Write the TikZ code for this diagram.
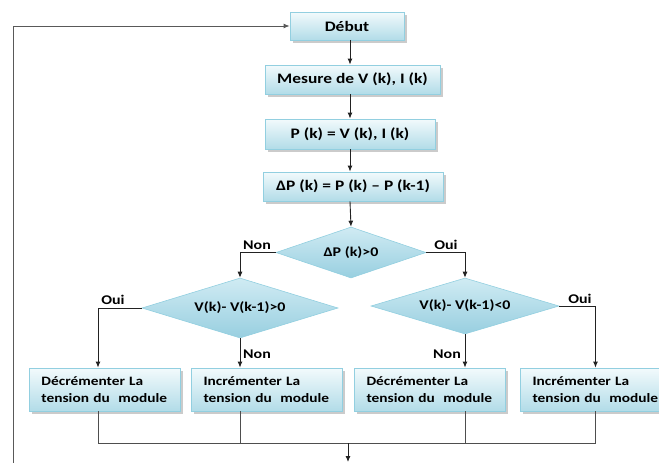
\documentclass[tikz,border=0pt]{standalone}
\usepackage{fontspec}
\setmainfont{Carlito}[FakeStretch=1.2]
\usetikzlibrary{shapes.geometric,arrows.meta,shadows}

\definecolor{boxtop}{HTML}{F2FAFC}
\definecolor{boxbot}{HTML}{B2DCE8}
\definecolor{boxedge}{HTML}{92CFE0}
\definecolor{dmtop}{HTML}{D0EBF3}
\definecolor{dmbot}{HTML}{98CFE0}
\definecolor{wire}{HTML}{222222}

\tikzset{
  stepbox/.style={draw=boxedge, line width=0.8pt, top color=boxtop, bottom color=boxbot,
    inner sep=0pt, font=\bfseries\fontsize{14.5}{17}\selectfont,
    drop shadow={shadow xshift=2.5pt, shadow yshift=-2.5pt, fill=black!45, opacity=0.45}},
  actbox/.style={stepbox, minimum width=151pt, minimum height=43pt,
    text width=126pt, align=left, font=\bfseries\fontsize{12.8}{16.5}\selectfont},
  test/.style={diamond, shape aspect=3.3, draw=boxedge, line width=0.6pt,
    top color=dmtop, bottom color=dmbot,
    inner sep=0pt, font=\bfseries\fontsize{13.3}{16}\selectfont},
  arr/.style={draw=wire, line width=0.9pt, -{Latex[length=6pt,width=5pt]}},
  wireline/.style={draw=wire!80, line width=0.7pt},
  lbl/.style={font=\bfseries\fontsize{13.3}{16}\selectfont, inner sep=0pt}
}

\begin{document}
\begin{tikzpicture}[x=1pt, y=-1pt]
  \useasboundingbox (0,0) rectangle (659,463);

  % main column
  \node[stepbox, minimum width=114pt, minimum height=28pt] (debut) at (347,26) {Début};
  \node[stepbox, minimum width=175pt, minimum height=29pt] (mesure) at (352.5,79.5) {Mesure de V (k), I (k)};
  \node[stepbox, minimum width=170pt, minimum height=30pt] (pk) at (350,134) {P (k) = V (k), I (k)};
  \node[stepbox, minimum width=180pt, minimum height=29pt] (dpk) at (353,186.5) {ΔP (k) = P (k) – P (k-1)};

  % decisions
  \node[test, minimum width=150pt, minimum height=51pt] (d1) at (351,252.5) {ΔP (k)>0};
  \node[test, minimum width=196pt, minimum height=60pt] (d2) at (240,308) {V(k)- V(k-1)>0};
  \node[test, minimum width=188pt, minimum height=56pt] (d3) at (465,306) {V(k)- V(k-1)<0};

  % actions
  \node[actbox] (b1) at (104.5,389.5) {Décrémenter La\\tension du\ \ module};
  \node[actbox] (b2) at (266.5,389.5) {Incrémenter La\\tension du\ \ module};
  \node[actbox] (b3) at (429.5,389.5) {Décrémenter La\\tension du\ \ module};
  \node[actbox] (b4) at (595.5,389.5) {Incrémenter La\\tension du\ \ module};

  % helper coordinates
  \coordinate (spine) at (350,0);
  \coordinate (xa) at (98,0);
  \coordinate (bus) at (348,443);
  \coordinate (out) at (348,462);
  \coordinate (fb) at (13,463);

  % main flow
  \draw[arr] (debut.south -| spine) -- (mesure.north -| spine);
  \draw[arr] (mesure.south -| spine) -- (pk.north -| spine);
  \draw[arr] (pk.south -| spine) -- (dpk.north -| spine);
  \draw[arr] (dpk.south -| spine) -- (d1.north);

  % branches of the first test
  \draw[arr] (d1.west) -| (d2.north);
  \draw[arr] (d1.east) -| (d3.north);
  \node[lbl] (non0) at (257,245) {Non};
  \node[lbl] (oui0) at (446,245) {Oui};

  % branches of the second tests
  \draw[arr] (d2.west) -| (xa |- b1.north);
  \draw[arr] (d2.south) -- (d2.south |- b2.north);
  \draw[arr] (d3.south) -- (d3.south |- b3.north);
  \draw[arr] (d3.east) -| (b4.north);
  \node[lbl] (oui1) at (113,300) {Oui};
  \node[lbl] (non1) at (257,354) {Non};
  \node[lbl] (non2) at (447,354) {Non};
  \node[lbl] (oui2) at (580,299) {Oui};

  % merging of the four actions
  \draw[wireline] (xa |- b1.south) -- (xa |- bus) -- (b4.south |- bus) -- (b4.south);
  \draw[wireline] (d2.south |- b2.south) -- (d2.south |- bus);
  \draw[wireline] (d3.south |- b3.south) -- (d3.south |- bus);
  \draw[arr] (bus) -- (out);

  % loop back to the start
  \draw[arr, draw=wire!75] (fb) |- (debut.west);
\end{tikzpicture}
\end{document}
